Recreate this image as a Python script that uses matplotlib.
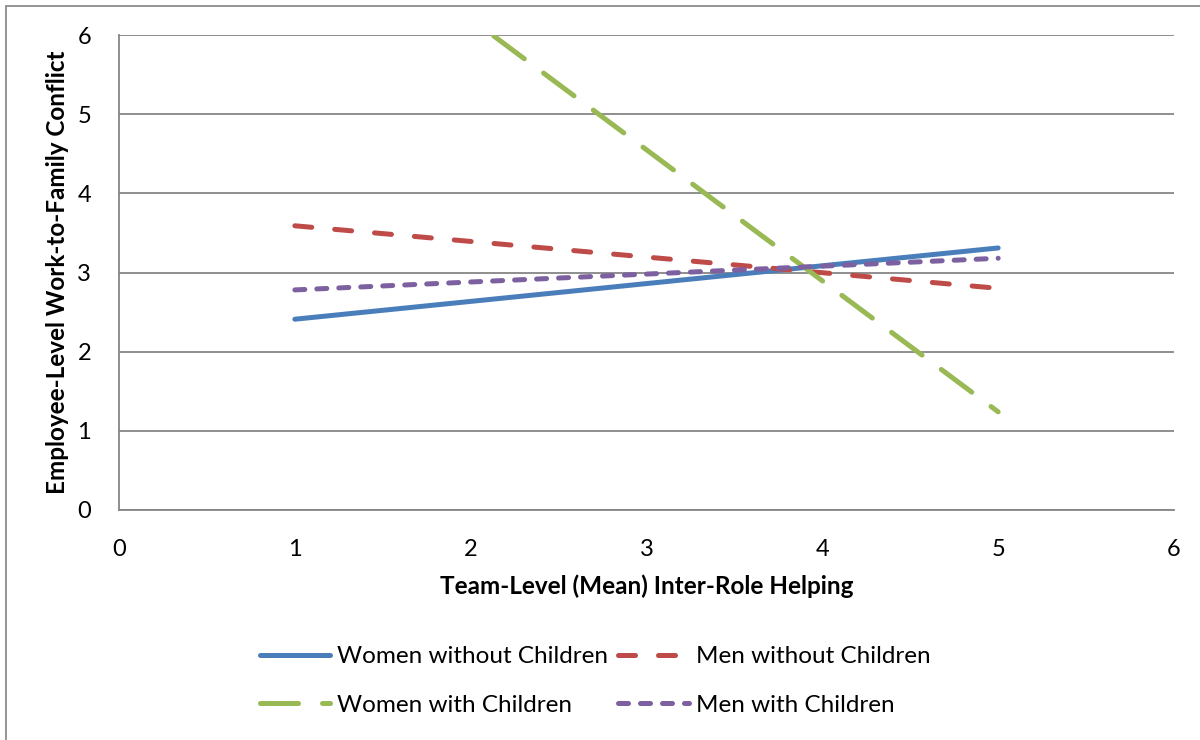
import matplotlib
matplotlib.use("Agg")
import matplotlib.pyplot as plt
from matplotlib.patches import Rectangle

# values
x_ends = [1, 5]
women_no_kids = [2.41, 3.31]
men_no_kids = [3.59, 2.80]
women_kids = [7.86, 1.24]
men_kids = [2.78, 3.18]

x_ticks = [0, 1, 2, 3, 4, 5, 6]
y_ticks = [0, 1, 2, 3, 4, 5, 6]

BLUE = "#4a7ebb"
RED = "#be4b48"
GREEN = "#98b954"
PURPLE = "#7d60a0"
GRID = "#868686"

plt.rcParams["font.family"] = ["Lato", "DejaVu Sans"]

fig = plt.figure(figsize=(12, 7.4), dpi=100)
fig.patches.append(Rectangle((6 / 1200, -0.1), 1.2, 1 - 6 / 740 + 0.1,
                             transform=fig.transFigure, fill=False,
                             edgecolor="#8c8c8c", linewidth=1.3))

ax = fig.add_axes([119 / 1200, 1 - 510 / 740, 1055 / 1200, 475 / 740])

lw = 3.6
l1, = ax.plot(x_ends, women_no_kids, color=BLUE, lw=lw, solid_capstyle="round",
              label="Women without Children")
l2, = ax.plot(x_ends, men_no_kids, color=RED, lw=lw, dash_capstyle="round",
              dashes=(3.4, 4.6), label="Men without Children")
l3, = ax.plot(x_ends, women_kids, color=GREEN, lw=lw, dash_capstyle="round",
              dashes=(7.6, 4.8), label="Women with Children")
l4, = ax.plot(x_ends, men_kids, color=PURPLE, lw=lw, dash_capstyle="round",
              dashes=(2.0, 2.4), label="Men with Children")

ax.set_xlim(0, 6)
ax.set_ylim(0, 6)
ax.set_xticks(x_ticks)
ax.set_yticks(y_ticks)
ax.tick_params(length=0, labelsize=17)
ax.tick_params(axis="x", pad=21)
ax.tick_params(axis="y", pad=20)

ax.grid(axis="y", color=GRID, lw=1.3)
ax.set_axisbelow(True)
for side in ("top", "right"):
    ax.spines[side].set_visible(False)
for side in ("left", "bottom"):
    ax.spines[side].set_color(GRID)
    ax.spines[side].set_linewidth(1.3)

ax.set_xlabel("Team-Level (Mean) Inter-Role Helping", fontsize=17.5,
              fontweight="bold", labelpad=10)
ax.set_ylabel("Employee-Level Work-to-Family Conflict", fontsize=17.5,
              fontweight="bold", labelpad=6)

leg = fig.legend(handles=[l1, l3, l2, l4], ncol=2, loc="center",
                 bbox_to_anchor=(595 / 1200, 1 - 681 / 740), frameon=False,
                 fontsize=17.5, handlelength=2.9, handletextpad=0.3,
                 columnspacing=0.4, labelspacing=1.12)

fig.savefig("out.png", dpi=100)
